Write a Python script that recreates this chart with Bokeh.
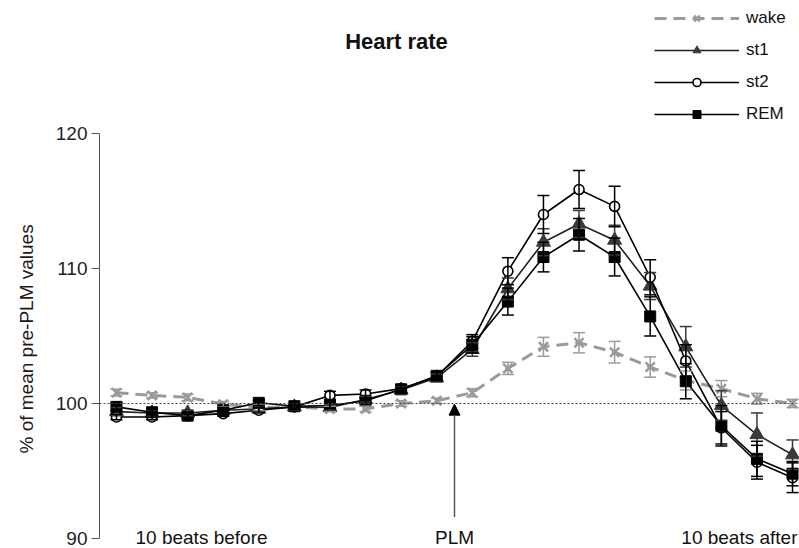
from bokeh.plotting import figure
from bokeh.models import (ColumnDataSource, LinearAxis, FixedTicker, Range1d, Whisker, TeeHead,
                          Legend, LegendItem, Span, Label, Arrow, NormalHead, Title)
from bokeh.embed import file_html
from bokeh.resources import INLINE

# beat positions: 10 beats before PLM (1..10), 10 beats after (11..20); PLM sits between 10 and 11
beat_pos = list(range(1, 21))
plm_pos = 10.5

wake = [100.8, 100.6, 100.45, 99.95, 99.7, 99.75, 99.6, 99.6, 100.0, 100.2,
        100.8, 102.6, 104.2, 104.5, 103.8, 102.7, 101.7, 101.1, 100.35, 100.0]
wake_err = [0.25, 0.2, 0.25, 0.2, 0.2, 0.2, 0.2, 0.2, 0.2, 0.2,
            0.3, 0.45, 0.7, 0.75, 0.8, 0.75, 0.7, 0.6, 0.4, 0.3]

st1 = [99.4, 99.3, 99.3, 99.5, 99.6, 99.75, 99.7, 100.3, 101.0, 101.9,
       104.0, 108.5, 111.95, 113.3, 112.1, 108.7, 104.2, 99.85, 97.7, 96.2]
st1_err = [0.3, 0.2, 0.2, 0.2, 0.2, 0.2, 0.2, 0.2, 0.3, 0.3,
           0.5, 0.8, 1.0, 1.0, 1.1, 1.0, 1.5, 1.1, 1.6, 1.1]

st2 = [99.0, 99.0, 99.1, 99.25, 99.5, 99.75, 100.6, 100.7, 101.1, 102.0,
       104.6, 109.8, 114.0, 115.85, 114.6, 109.35, 103.15, 98.2, 95.65, 94.5]
st2_err = [0.2, 0.2, 0.2, 0.2, 0.2, 0.2, 0.3, 0.3, 0.3, 0.3,
           0.5, 1.0, 1.4, 1.4, 1.5, 1.3, 1.2, 1.2, 1.25, 1.1]

rem = [99.75, 99.35, 99.1, 99.5, 100.05, 99.8, 99.85, 100.2, 101.05, 102.05,
       104.35, 107.55, 110.85, 112.5, 110.85, 106.45, 101.65, 98.35, 95.9, 94.8]
rem_err = [0.3, 0.2, 0.2, 0.2, 0.2, 0.2, 0.2, 0.2, 0.3, 0.3,
           0.6, 1.0, 1.1, 1.2, 1.4, 1.45, 1.3, 1.5, 1.3, 0.9]

y_ticks = [90, 100, 110, 120]

FONT = "Liberation Sans"

p = figure(width=799, height=548, output_backend="svg", toolbar_location=None,
           x_axis_type=None, y_axis_type=None,
           x_range=Range1d(0.523, 20.196), y_range=Range1d(89.407, 129.852),
           min_border_left=98, min_border_right=0, min_border_top=0, min_border_bottom=2)
p.outline_line_color = None
p.grid.visible = False
p.background_fill_color = "white"

yaxis = LinearAxis(bounds=(90, 120), ticker=FixedTicker(ticks=y_ticks))
yaxis.axis_line_color = "#555555"
yaxis.major_tick_line_color = "#555555"
yaxis.major_tick_out = 8
yaxis.major_tick_in = 0
yaxis.minor_tick_line_color = None
yaxis.major_label_standoff = 4
yaxis.major_label_text_font = FONT
yaxis.major_label_text_font_size = "19px"
yaxis.major_label_text_color = "#222222"
p.add_layout(yaxis, "left")

# y-axis title, placed beside the bounded axis (90..120)
ytitle = Title(text="% of mean pre-PLM values", align="left", offset=93, vertical_align="middle",
               standoff=29, text_font=FONT, text_font_size="19px", text_font_style="normal",
               text_color="#1a1a1a")
p.add_layout(ytitle, "left")

p.add_layout(Span(location=100, dimension="width", line_color="#444444",
                  line_width=1, line_dash="2 2"))

series = [
    ("wake", wake, wake_err, "#9a9a9a"),
    ("st1", st1, st1_err, "#3a3a3a"),
    ("st2", st2, st2_err, "#000000"),
    ("REM", rem, rem_err, "#000000"),
]

items = []
for name, vals, errs, col in series:
    src = ColumnDataSource(dict(x=beat_pos, y=vals,
                                lo=[v - e for v, e in zip(vals, errs)],
                                hi=[v + e for v, e in zip(vals, errs)]))
    w = Whisker(base="x", lower="lo", upper="hi", source=src, line_color=col, line_width=1.5,
                upper_head=TeeHead(size=12, line_color=col, line_width=1.5),
                lower_head=TeeHead(size=12, line_color=col, line_width=1.5), level="glyph")
    p.add_layout(w)
    if name == "wake":
        ln = p.line("x", "y", source=src, line_color=col, line_width=3, line_dash="12 7")
        mk = p.scatter("x", "y", source=src, marker="x", size=13, line_color=col, line_width=2.5)
    elif name == "st1":
        ln = p.line("x", "y", source=src, line_color="#222222", line_width=1.6)
        mk = p.scatter("x", "y", source=src, marker="triangle", size=14, fill_color=col, line_color=col)
    elif name == "st2":
        ln = p.line("x", "y", source=src, line_color=col, line_width=1.6)
        mk = p.scatter("x", "y", source=src, marker="circle", size=10, fill_color="white",
                       line_color=col, line_width=1.6)
    else:
        ln = p.line("x", "y", source=src, line_color=col, line_width=1.6)
        mk = p.scatter("x", "y", source=src, marker="square", size=11, fill_color=col, line_color=col)
    items.append(LegendItem(label=name, renderers=[ln, mk]))

legend = Legend(items=items, location=(555, 422), glyph_width=85, glyph_height=20,
                label_height=20, label_standoff=7, spacing=12, padding=0, margin=0,
                border_line_color=None, background_fill_alpha=0,
                label_text_font=FONT, label_text_font_size="17px", label_text_color="#111111")
p.add_layout(legend)

p.add_layout(Arrow(end=NormalHead(size=11, fill_color="black", line_color="black"),
                   x_start=plm_pos, y_start=91.6, x_end=plm_pos, y_end=99.95,
                   line_color="#555555", line_width=1.5))

for txt, xx, align in [("10 beats before", 3.39, "center"), ("PLM", plm_pos, "center"),
                       ("10 beats after", 20.14, "right")]:
    p.add_layout(Label(x=xx, y=90.1, text=txt, text_align=align, text_baseline="alphabetic",
                       text_font=FONT, text_font_size="19px", text_color="#111111"))

p.add_layout(Label(x=8.87, y=126.8, text="Heart rate", text_align="center", text_baseline="middle",
                   text_font=FONT, text_font_size="22px", text_font_style="bold", text_color="#111111"))

open("out.html", "w").write(file_html(p, INLINE))
